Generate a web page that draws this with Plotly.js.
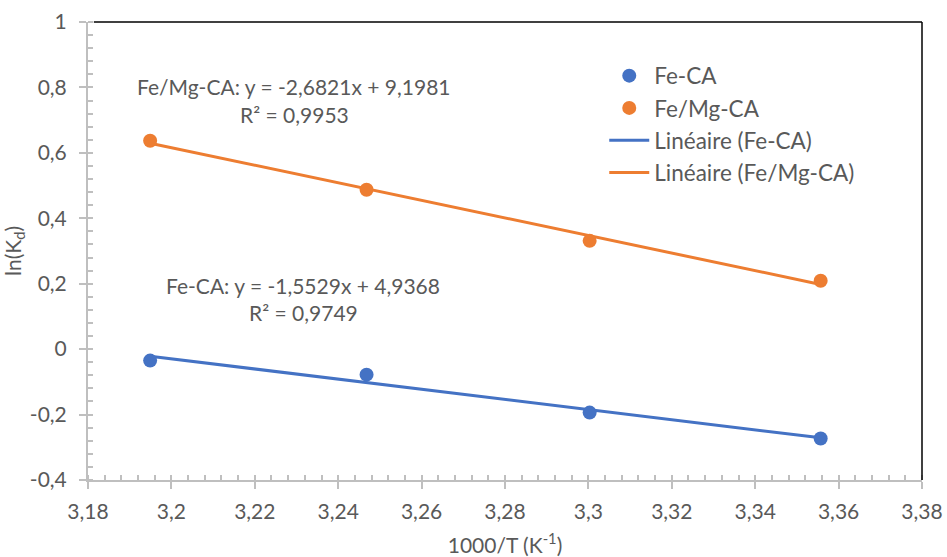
<!DOCTYPE html>
<html>
<head>
<meta charset="utf-8">
<script src="https://cdn.plot.ly/plotly-3.0.1.min.js"></script>
<style>html,body{margin:0;padding:0;background:#fff;}#chart{width:947px;height:557px;}</style>
</head>
<body>
<div id="chart"></div>
<script>
// 1000/T values (K^-1)
const invT = [3.1949, 3.2468, 3.3003, 3.3557];
// ln(Kd) values
const feCA = [-0.035, -0.078, -0.194, -0.273];
const feMgCA = [0.637, 0.487, 0.331, 0.209];
// tick labels
const xTickVals = [3.18, 3.2, 3.22, 3.24, 3.26, 3.28, 3.3, 3.32, 3.34, 3.36, 3.38];
const xTickText = ["3,18", "3,2", "3,22", "3,24", "3,26", "3,28", "3,3", "3,32", "3,34", "3,36", "3,38"];
const yTickVals = [-0.4, -0.2, 0, 0.2, 0.4, 0.6, 0.8, 1];
const yTickText = ["-0,4", "-0,2", "0", "0,2", "0,4", "0,6", "0,8", "1"];
// trendline equations as shown on the chart
const eqFeMg = ["Fe/Mg-CA: y = -2,6821x + 9,1981", "R² = 0,9953"];
const eqFe = ["Fe-CA: y = -1,5529x + 4,9368", "R² = 0,9749"];

function linfit(xs, ys) {
  const n = xs.length;
  const mx = xs.reduce((a, b) => a + b, 0) / n;
  const my = ys.reduce((a, b) => a + b, 0) / n;
  let sxy = 0, sxx = 0;
  for (let i = 0; i < n; i++) { sxy += (xs[i] - mx) * (ys[i] - my); sxx += (xs[i] - mx) ** 2; }
  const m = sxy / sxx;
  const b = my - m * mx;
  const x0 = Math.min(...xs), x1 = Math.max(...xs);
  return { x: [x0, x1], y: [m * x0 + b, m * x1 + b] };
}

const blue = '#4472C4', orange = '#ED7D31', grey = '#595959';
const fFe = linfit(invT, feCA);
const fFeMg = linfit(invT, feMgCA);
const font = 'Lato, "Open Sans", sans-serif';
const fs = 21;

const traces = [
  { x: fFe.x, y: fFe.y, mode: 'lines', name: 'Linéaire (Fe-CA)', line: { color: blue, width: 3 }, legendrank: 3 },
  { x: fFeMg.x, y: fFeMg.y, mode: 'lines', name: 'Linéaire (Fe/Mg-CA)', line: { color: orange, width: 3 }, legendrank: 4 },
  { x: invT, y: feCA, mode: 'markers', name: 'Fe-CA', marker: { color: blue, size: 14 }, legendrank: 1 },
  { x: invT, y: feMgCA, mode: 'markers', name: 'Fe/Mg-CA', marker: { color: orange, size: 14 }, legendrank: 2 }
];

function ann(x, y, text) {
  return { xref: 'x', yref: 'y', x: x, y: y, text: text, showarrow: false, align: 'center', font: { size: fs, color: grey } };
}

const layout = {
  width: 947, height: 557,
  margin: { l: 88, r: 25, t: 22, b: 77 },
  paper_bgcolor: '#fff', plot_bgcolor: '#fff',
  font: { family: font, size: fs, color: grey },
  showlegend: true,
  legend: { x: 0.619, y: 0.929, xanchor: 'left', yanchor: 'top', bgcolor: 'rgba(0,0,0,0)',
            font: { size: 22.5, color: grey }, tracegroupgap: 0, itemwidth: 40 },
  xaxis: {
    range: [3.18, 3.38], tickmode: 'array', tickvals: xTickVals, ticktext: xTickText,
    showgrid: false, zeroline: false, showline: true, linecolor: '#bfbfbf', linewidth: 2,
    ticks: 'outside', ticklen: 7, tickwidth: 2, tickcolor: '#bfbfbf', ticklabelstandoff: 5,
    minor: { tickmode: 'linear', tick0: 3.18, dtick: 0.004, ticks: 'inside', ticklen: 5, tickwidth: 2, tickcolor: '#bfbfbf', showgrid: false },
    tickfont: { size: fs, color: grey },
    title: { text: '1000/T (K<sup>-1</sup>)', font: { size: fs, color: grey }, standoff: 16 }
  },
  yaxis: {
    range: [-0.4, 1], tickmode: 'array', tickvals: yTickVals, ticktext: yTickText,
    showgrid: false, zeroline: false, showline: true, linecolor: '#bfbfbf', linewidth: 2,
    ticks: 'outside', ticklen: 7, tickwidth: 2, tickcolor: '#bfbfbf', ticklabelstandoff: 8,
    minor: { tickmode: 'linear', tick0: -0.4, dtick: 0.04, ticks: 'inside', ticklen: 5, tickwidth: 2, tickcolor: '#bfbfbf', showgrid: false },
    tickfont: { size: fs, color: grey },
    title: { text: 'ln(K<sub>d</sub>)', font: { size: fs, color: grey }, standoff: 6 }
  },
  shapes: [
    { type: 'line', xref: 'paper', yref: 'paper', x0: 0.007, x1: 1, y0: 1, y1: 1, line: { color: '#000', width: 1.5 } },
    { type: 'line', xref: 'paper', yref: 'paper', x0: 1, x1: 1, y0: 0, y1: 1, line: { color: '#000', width: 1.5 } }
  ],
  annotations: [
    ann(3.2294, 0.8015, eqFeMg[0]),
    ann(3.2294, 0.716, eqFeMg[1]),
    ann(3.2316, 0.1939, eqFe[0]),
    ann(3.2316, 0.1115, eqFe[1])
  ]
};

Plotly.newPlot('chart', traces, layout, { displayModeBar: false, staticPlot: true });
</script>
</body>
</html>
